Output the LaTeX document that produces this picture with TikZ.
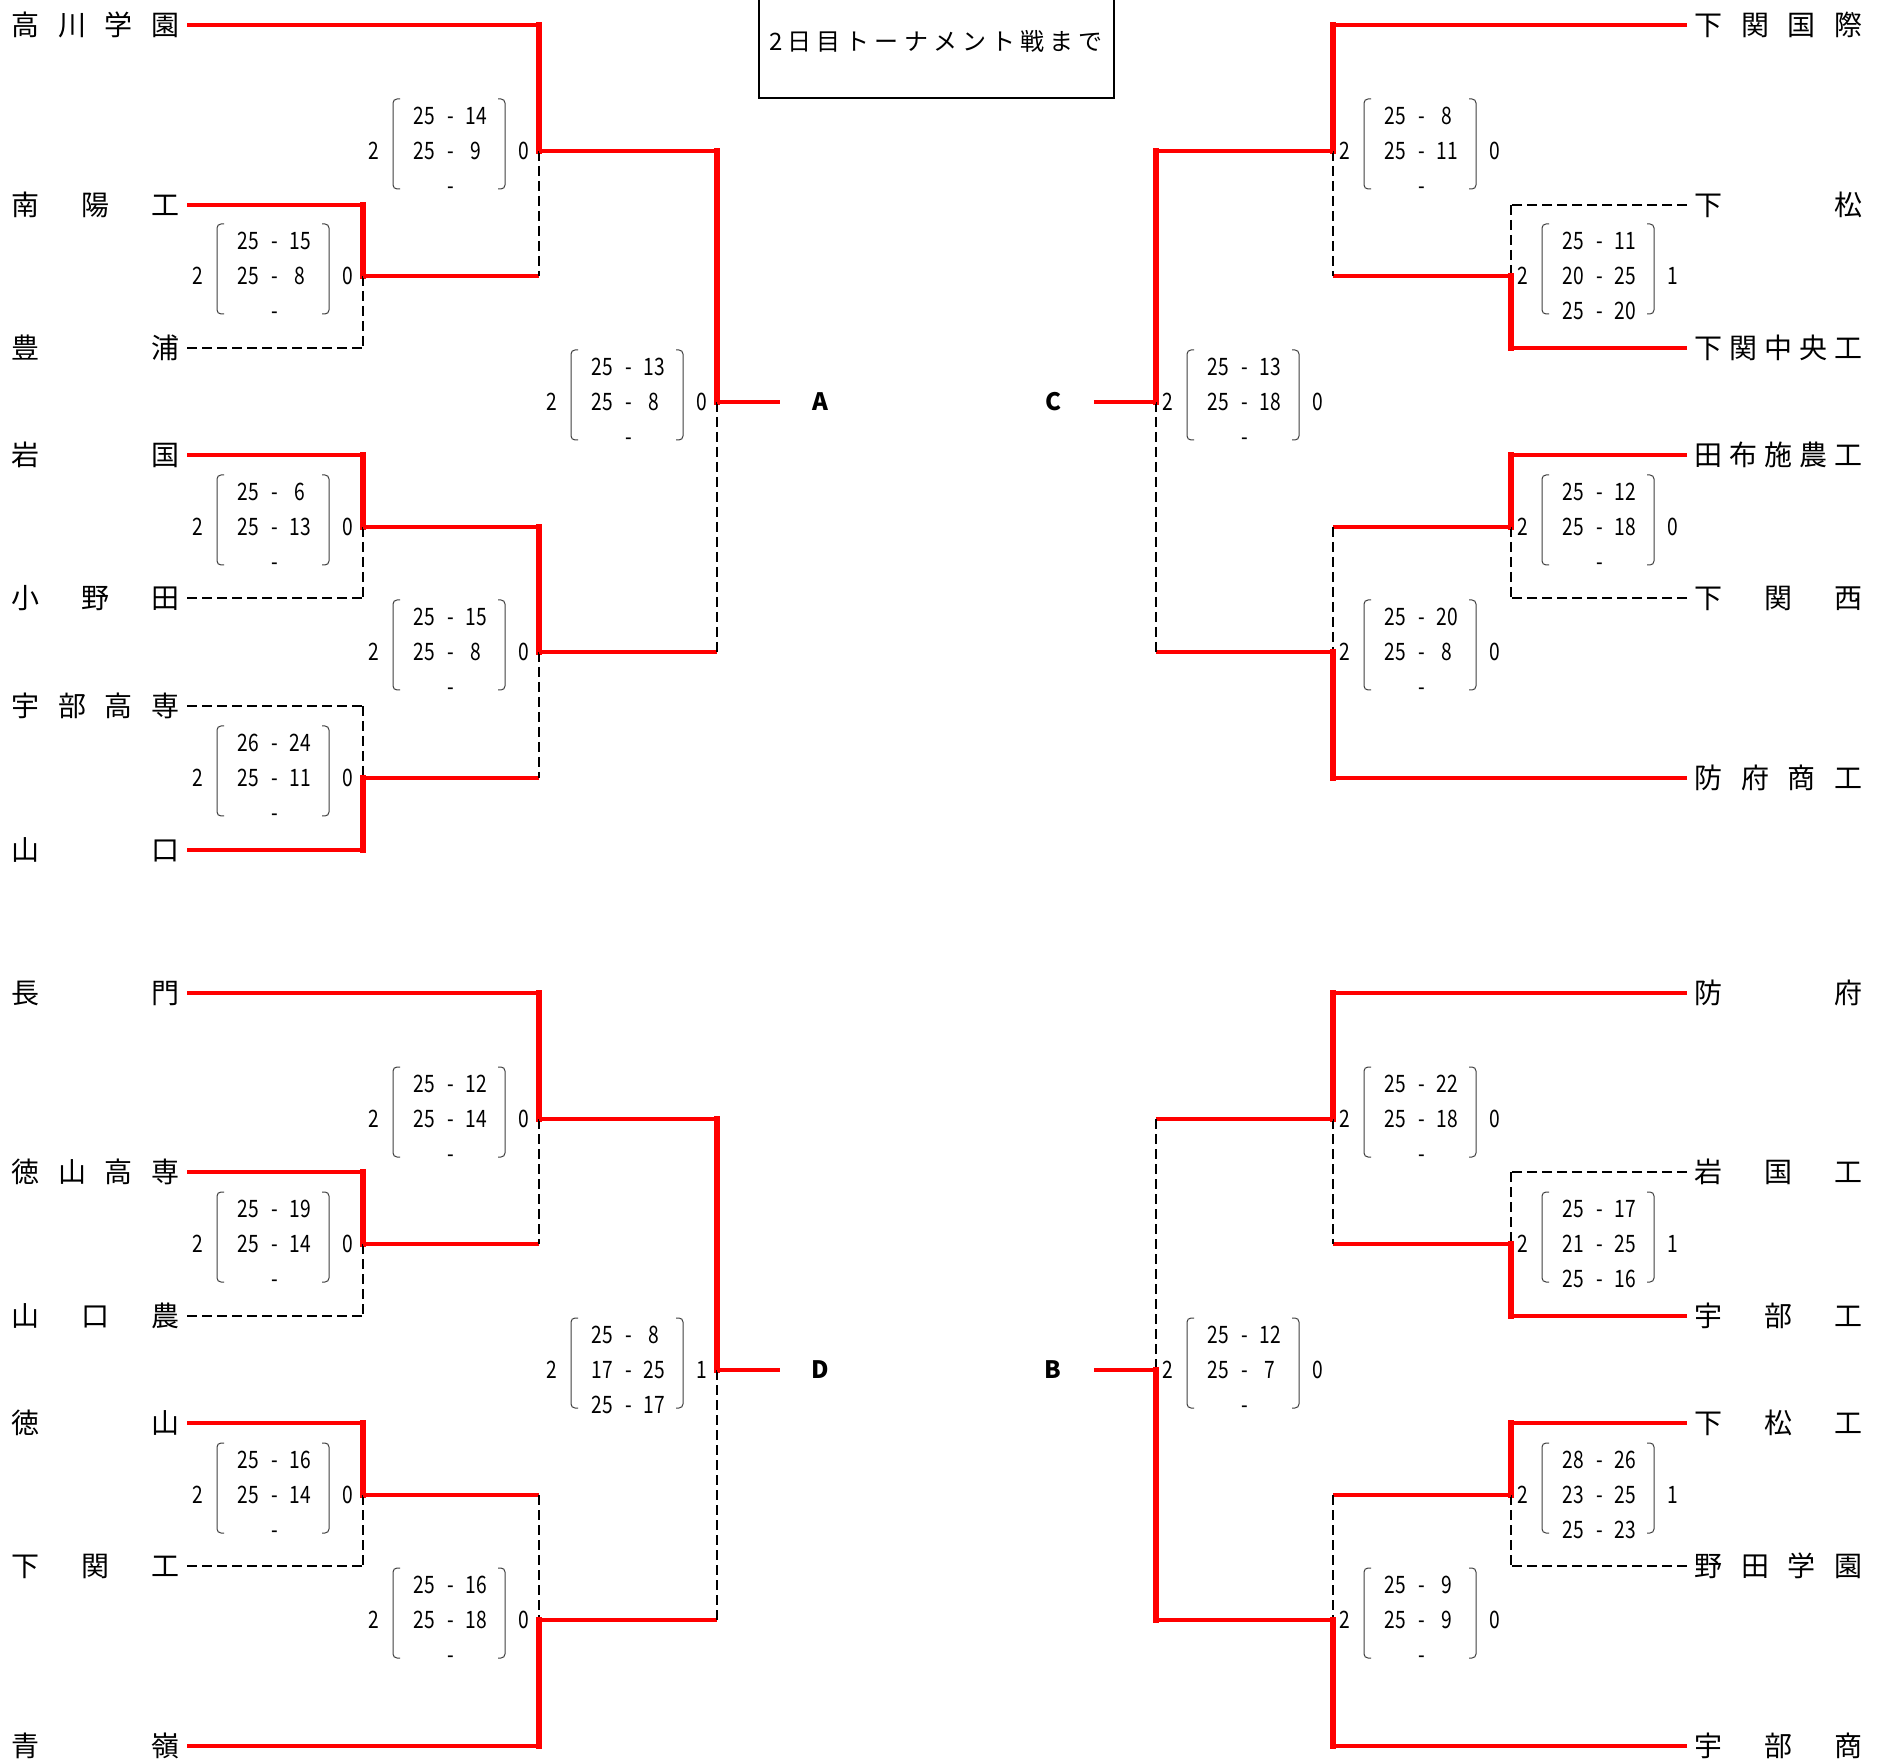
\documentclass[tikz,border=0pt]{standalone}
\usepackage{fontspec}
\setmainfont{Noto Sans CJK JP}
\newfontfamily\numfont[FakeStretch=0.8]{Noto Sans CJK JP}

% spread a school name over the name column
\newcommand{\tname}[1]{\makebox[84pt][s]{#1}}

% vertical part of a match: upper end, lower end, join, winner (1 upper, 2 lower)
\newcommand{\bout}[4]{%
  \ifnum#4=1\relax
    \draw[winup] (#1 -| #3) -- (#3);
    \draw[lose] (#3) -- (#2 -| #3);
  \else
    \draw[lose] (#1 -| #3) -- (#3);
    \draw[winup] (#3) -- (#2 -| #3);
  \fi}

% score block: join, offset, sets won, sets lost, points
\newcommand{\setscore}[5]{%
  \begin{scope}[shift={(#1)},shift={(#2,0)}]
    \node[pts] (#1won) at (-75,0) {#3};
    \node[pts] (#1lost) at (75,0) {#4};
    \draw[paren] (-49,-52) -- (-56,-52) -- (-56,38) -- (-49,38);
    \draw[paren] (49,-52) -- (56,-52) -- (56,38) -- (49,38);
    \foreach \p/\q [count=\i] in {#5} {
      \node[pts] (#1a\i) at (-25,{35*(\i-2)}) {\p};
      \node[pts] (#1d\i) at (2,{35*(\i-2)}) {-};
      \node[pts] (#1b\i) at (27,{35*(\i-2)}) {\q};
    }
  \end{scope}}

\begin{document}
\begin{tikzpicture}[x=0.5pt,y=-0.5pt,
  win/.style={red,line width=1.8pt},
  winup/.style={red,line width=2.8pt,line cap=rect},
  lose/.style={black,line width=1.2pt,dash pattern=on 5pt off 2.5pt},
  team/.style={inner xsep=3.5pt,inner ysep=0pt,font=\fontsize{14pt}{16pt}\selectfont},
  teamL/.style={team,anchor=east},
  teamR/.style={team,anchor=west},
  pts/.style={inner sep=0pt,text height=8.8pt,text depth=0pt,
    font=\numfont\fontsize{12pt}{14pt}\selectfont},
  paren/.style={black!75,line width=0.5pt,rounded corners=2pt},
  pool/.style={font=\bfseries\fontsize{12pt}{14pt}\selectfont},
  titlebox/.style={draw,line width=1pt,minimum width=177.5pt,minimum height=57pt,
    inner sep=0pt,font=\fontsize{12pt}{14pt}\selectfont}]
  \path[use as bounding box,fill=white] (0,0) rectangle (1880,1764);

  \node[titlebox] (title) at (936,41) {\makebox[167pt][s]{2\hfill 日\hfill 目\hfill ト\hfill ー\hfill ナ\hfill メ\hfill ン\hfill ト\hfill 戦\hfill ま\hfill で}};

  % joins
  \coordinate (a1) at (363,276);
  \coordinate (a2) at (363,527);
  \coordinate (a3) at (363,778);
  \coordinate (a4) at (539,151);
  \coordinate (a5) at (539,652);
  \coordinate (a6) at (717,402);
  \coordinate (endA) at (780,402);
  \coordinate (d1) at (363,1244);
  \coordinate (d2) at (363,1495);
  \coordinate (d3) at (539,1119);
  \coordinate (d4) at (539,1620);
  \coordinate (d5) at (717,1370);
  \coordinate (endD) at (780,1370);
  \coordinate (c1) at (1511,276);
  \coordinate (c2) at (1511,527);
  \coordinate (c3) at (1333,151);
  \coordinate (c4) at (1333,652);
  \coordinate (c5) at (1156,402);
  \coordinate (endC) at (1094,402);
  \coordinate (b1) at (1511,1244);
  \coordinate (b2) at (1511,1495);
  \coordinate (b3) at (1333,1119);
  \coordinate (b4) at (1333,1620);
  \coordinate (b5) at (1156,1370);
  \coordinate (endB) at (1094,1370);

  \node[pool] (poolA) at (820,402) {A};
  \node[pool] (poolD) at (820,1370) {D};
  \node[pool] (poolC) at (1053,402) {C};
  \node[pool] (poolB) at (1053,1370) {B};

  % left top
  \node[teamL] (takagawa) at (187,25) {\tname{高\hfill 川\hfill 学\hfill 園}};
  \node[teamL] (nanyo) at (187,205) {\tname{南\hfill 陽\hfill 工}};
  \node[teamL] (toyoura) at (187,348) {\tname{豊\hfill 浦}};
  \node[teamL] (iwakuni) at (187,455) {\tname{岩\hfill 国}};
  \node[teamL] (onoda) at (187,598) {\tname{小\hfill 野\hfill 田}};
  \node[teamL] (ubekosen) at (187,706) {\tname{宇\hfill 部\hfill 高\hfill 専}};
  \node[teamL] (yamaguchi) at (187,850) {\tname{山\hfill 口}};
  % left bottom
  \node[teamL] (nagato) at (187,993) {\tname{長\hfill 門}};
  \node[teamL] (tokukosen) at (187,1172) {\tname{徳\hfill 山\hfill 高\hfill 専}};
  \node[teamL] (yamano) at (187,1316) {\tname{山\hfill 口\hfill 農}};
  \node[teamL] (tokuyama) at (187,1423) {\tname{徳\hfill 山}};
  \node[teamL] (shimoko) at (187,1566) {\tname{下\hfill 関\hfill 工}};
  \node[teamL] (seiryo) at (187,1746) {\tname{青\hfill 嶺}};
  % right top
  \node[teamR] (shimokoku) at (1687,25) {\tname{下\hfill 関\hfill 国\hfill 際}};
  \node[teamR] (kudamatsu) at (1687,205) {\tname{下\hfill 松}};
  \node[teamR] (shimochuo) at (1687,348) {\tname{下\hfill 関\hfill 中\hfill 央\hfill 工}};
  \node[teamR] (tabuse) at (1687,455) {\tname{田\hfill 布\hfill 施\hfill 農\hfill 工}};
  \node[teamR] (shimonishi) at (1687,598) {\tname{下\hfill 関\hfill 西}};
  \node[teamR] (hofushoko) at (1687,778) {\tname{防\hfill 府\hfill 商\hfill 工}};
  % right bottom
  \node[teamR] (hofu) at (1687,993) {\tname{防\hfill 府}};
  \node[teamR] (iwakoko) at (1687,1172) {\tname{岩\hfill 国\hfill 工}};
  \node[teamR] (ubeko) at (1687,1316) {\tname{宇\hfill 部\hfill 工}};
  \node[teamR] (kudako) at (1687,1423) {\tname{下\hfill 松\hfill 工}};
  \node[teamR] (nodagakuen) at (1687,1566) {\tname{野\hfill 田\hfill 学\hfill 園}};
  \node[teamR] (ubesho) at (1687,1746) {\tname{宇\hfill 部\hfill 商}};

  % A block
  \draw[win] (nanyo.east) -- (nanyo.east -| a1);
  \draw[lose] (toyoura.east) -- (toyoura.east -| a1);
  \bout{nanyo.east}{toyoura.east}{a1}{1}
  \draw[win] (iwakuni.east) -- (iwakuni.east -| a2);
  \draw[lose] (onoda.east) -- (onoda.east -| a2);
  \bout{iwakuni.east}{onoda.east}{a2}{1}
  \draw[lose] (ubekosen.east) -- (ubekosen.east -| a3);
  \draw[win] (yamaguchi.east) -- (yamaguchi.east -| a3);
  \bout{ubekosen.east}{yamaguchi.east}{a3}{2}
  \draw[win] (takagawa.east) -- (takagawa.east -| a4);
  \draw[win] (a1) -- (a1 -| a4);
  \bout{takagawa.east}{a1}{a4}{1}
  \draw[win] (a2) -- (a2 -| a5);
  \draw[win] (a3) -- (a3 -| a5);
  \bout{a2}{a3}{a5}{1}
  \draw[win] (a4) -- (a4 -| a6);
  \draw[win] (a5) -- (a5 -| a6);
  \bout{a4}{a5}{a6}{1}
  \draw[win] (a6) -- (endA);

  % D block
  \draw[win] (tokukosen.east) -- (tokukosen.east -| d1);
  \draw[lose] (yamano.east) -- (yamano.east -| d1);
  \bout{tokukosen.east}{yamano.east}{d1}{1}
  \draw[win] (tokuyama.east) -- (tokuyama.east -| d2);
  \draw[lose] (shimoko.east) -- (shimoko.east -| d2);
  \bout{tokuyama.east}{shimoko.east}{d2}{1}
  \draw[win] (nagato.east) -- (nagato.east -| d3);
  \draw[win] (d1) -- (d1 -| d3);
  \bout{nagato.east}{d1}{d3}{1}
  \draw[win] (d2) -- (d2 -| d4);
  \draw[win] (seiryo.east) -- (seiryo.east -| d4);
  \bout{d2}{seiryo.east}{d4}{2}
  \draw[win] (d3) -- (d3 -| d5);
  \draw[win] (d4) -- (d4 -| d5);
  \bout{d3}{d4}{d5}{1}
  \draw[win] (d5) -- (endD);

  % C block
  \draw[lose] (kudamatsu.west) -- (kudamatsu.west -| c1);
  \draw[win] (shimochuo.west) -- (shimochuo.west -| c1);
  \bout{kudamatsu.west}{shimochuo.west}{c1}{2}
  \draw[win] (tabuse.west) -- (tabuse.west -| c2);
  \draw[lose] (shimonishi.west) -- (shimonishi.west -| c2);
  \bout{tabuse.west}{shimonishi.west}{c2}{1}
  \draw[win] (shimokoku.west) -- (shimokoku.west -| c3);
  \draw[win] (c1) -- (c1 -| c3);
  \bout{shimokoku.west}{c1}{c3}{1}
  \draw[win] (c2) -- (c2 -| c4);
  \draw[win] (hofushoko.west) -- (hofushoko.west -| c4);
  \bout{c2}{hofushoko.west}{c4}{2}
  \draw[win] (c3) -- (c3 -| c5);
  \draw[win] (c4) -- (c4 -| c5);
  \bout{c3}{c4}{c5}{1}
  \draw[win] (c5) -- (endC);

  % B block
  \draw[lose] (iwakoko.west) -- (iwakoko.west -| b1);
  \draw[win] (ubeko.west) -- (ubeko.west -| b1);
  \bout{iwakoko.west}{ubeko.west}{b1}{2}
  \draw[win] (kudako.west) -- (kudako.west -| b2);
  \draw[lose] (nodagakuen.west) -- (nodagakuen.west -| b2);
  \bout{kudako.west}{nodagakuen.west}{b2}{1}
  \draw[win] (hofu.west) -- (hofu.west -| b3);
  \draw[win] (b1) -- (b1 -| b3);
  \bout{hofu.west}{b1}{b3}{1}
  \draw[win] (b2) -- (b2 -| b4);
  \draw[win] (ubesho.west) -- (ubesho.west -| b4);
  \bout{b2}{ubesho.west}{b4}{2}
  \draw[win] (b3) -- (b3 -| b5);
  \draw[win] (b4) -- (b4 -| b5);
  \bout{b3}{b4}{b5}{2}
  \draw[win] (b5) -- (endB);

  % scores
  \setscore{a1}{-90}{2}{0}{25/15,25/8,~/~}
  \setscore{a2}{-90}{2}{0}{25/6,25/13,~/~}
  \setscore{a3}{-90}{2}{0}{26/24,25/11,~/~}
  \setscore{a4}{-90}{2}{0}{25/14,25/9,~/~}
  \setscore{a5}{-90}{2}{0}{25/15,25/8,~/~}
  \setscore{a6}{-90}{2}{0}{25/13,25/8,~/~}
  \setscore{d1}{-90}{2}{0}{25/19,25/14,~/~}
  \setscore{d2}{-90}{2}{0}{25/16,25/14,~/~}
  \setscore{d3}{-90}{2}{0}{25/12,25/14,~/~}
  \setscore{d4}{-90}{2}{0}{25/16,25/18,~/~}
  \setscore{d5}{-90}{2}{1}{25/8,17/25,25/17}
  \setscore{c1}{87}{2}{1}{25/11,20/25,25/20}
  \setscore{c2}{87}{2}{0}{25/12,25/18,~/~}
  \setscore{c3}{87}{2}{0}{25/8,25/11,~/~}
  \setscore{c4}{87}{2}{0}{25/20,25/8,~/~}
  \setscore{c5}{87}{2}{0}{25/13,25/18,~/~}
  \setscore{b1}{87}{2}{1}{25/17,21/25,25/16}
  \setscore{b2}{87}{2}{1}{28/26,23/25,25/23}
  \setscore{b3}{87}{2}{0}{25/22,25/18,~/~}
  \setscore{b4}{87}{2}{0}{25/9,25/9,~/~}
  \setscore{b5}{87}{2}{0}{25/12,25/7,~/~}
\end{tikzpicture}
\end{document}
